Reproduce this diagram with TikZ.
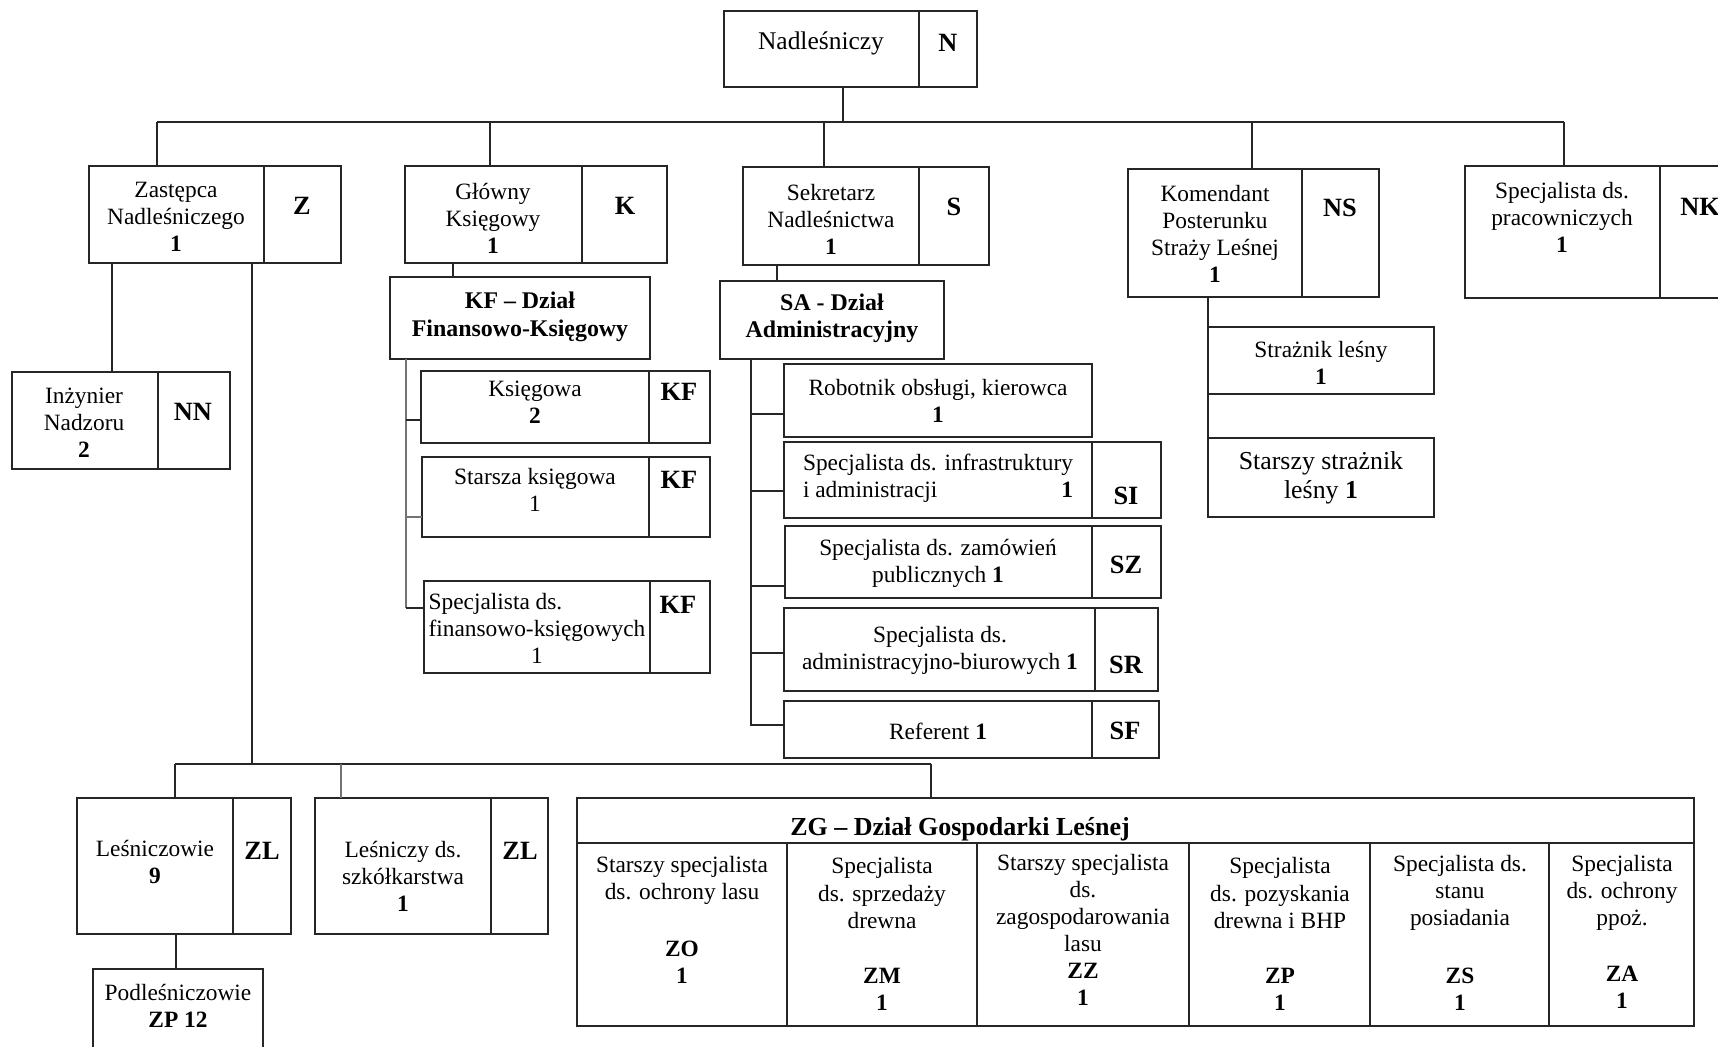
\documentclass[tikz,border=0pt]{standalone}
\usepackage{fontspec}
\setmainfont{Liberation Serif}
\usetikzlibrary{fit}
\newcommand\ft{\fontsize{13.3}{15.4}\selectfont}
\newcommand\obox[5]{\node[bx,fit={(#2,#3) (#4,#5)}] (#1) {};}
\tikzset{
  bx/.style={draw=black!85,line width=0.8pt,inner sep=0pt,outer sep=0pt},
  tx/.style={inner sep=0pt,align=center,font=\ft},
  cd/.style={inner sep=0pt,font=\fontsize{15}{17}\selectfont\bfseries},
  hd/.style={inner sep=0pt,align=center,font=\fontsize{13.6}{15.6}\selectfont\bfseries},
  ln/.style={draw=black!85,line width=0.75pt},
  lng/.style={draw=black!55,line width=0.75pt}
}
\begin{document}
\begin{tikzpicture}[x=0.02cm,y=-0.02cm]
\useasboundingbox (0,0) rectangle (1718,1046);
\clip (0,0) rectangle (1718,1046);
\fill[white] (0,0) rectangle (1718,1046);

% ---------- boxes ----------
\obox{N}{724}{11}{919}{87}      \obox{Nc}{919}{11}{977}{87}
\obox{Z}{89}{166}{264}{263}     \obox{Zc}{264}{166}{341}{263}
\obox{K}{405}{166}{582}{263}    \obox{Kc}{582}{166}{667}{263}
\obox{S}{743}{167}{919}{265}    \obox{Sc}{919}{167}{989}{265}
\obox{NS}{1128}{169}{1302}{297} \obox{NSc}{1302}{169}{1379}{297}
\obox{NK}{1465}{166}{1660}{298} \obox{NKc}{1660}{166}{1740}{298}
\obox{NN}{12}{372}{158}{469}    \obox{NNc}{158}{372}{230}{469}
\obox{KF}{390}{277}{650}{359}
\obox{KS}{421}{371}{649}{443}   \obox{KSc}{649}{371}{710}{443}
\obox{KSS}{422}{457}{649}{537}  \obox{KSSc}{649}{457}{710}{537}
\obox{KSF}{424}{581}{650}{673}  \obox{KSFc}{650}{581}{710}{673}
\obox{SA}{720}{281}{944}{359}
\obox{RO}{784}{364}{1092}{437}
\obox{SI}{784}{442}{1092}{518}  \obox{SIc}{1092}{442}{1161}{518}
\obox{SZ}{785}{526}{1092}{598}  \obox{SZc}{1092}{526}{1161}{598}
\obox{SR}{784}{608}{1095}{691}  \obox{SRc}{1095}{608}{1158}{691}
\obox{SF}{784}{701}{1092}{758}  \obox{SFc}{1092}{701}{1159}{758}
\obox{STa}{1208}{327}{1434}{394}
\obox{STb}{1208}{438}{1434}{517}
\obox{LE}{77}{798}{233}{934}    \obox{LEc}{233}{798}{291}{934}
\obox{LS}{315}{798}{491}{934}   \obox{LSc}{491}{798}{548}{934}
\obox{PO}{93}{969}{263}{1080}
\obox{ZGh}{577}{798}{1694}{843}
\obox{ZG1}{577}{843}{787}{1026}
\obox{ZG2}{787}{843}{977}{1026}
\obox{ZG3}{977}{843}{1189}{1026}
\obox{ZG4}{1189}{843}{1370}{1026}
\obox{ZG5}{1370}{843}{1549}{1026}
\obox{ZG6}{1549}{843}{1694}{1026}

% ---------- texts ----------
\node[tx,font=\fontsize{14.5}{16}\selectfont] (N-t) at (821,43) {Nadleśniczy};
\node[cd] (N-c) at (948,43) {N};
\node[tx] (Z-t) at (176,217) {Zastępca\\Nadleśniczego\\\textbf{1}};
\node[cd] (Z-c) at (302,206) {Z};
\node[tx] (K-t) at (493,218) {Główny\\Księgowy\\\textbf{1}};
\node[cd] (K-c) at (625,206) {K};
\node[tx] (S-t) at (831,219) {Sekretarz\\Nadleśnictwa\\\textbf{1}};
\node[cd] (S-c) at (954,207) {S};
\node[tx] (NS-t) at (1215,234) {Komendant\\Posterunku\\Straży Leśnej\\\textbf{1}};
\node[cd] (NS-c) at (1340,208) {NS};
\node[tx] (NK-t) at (1562,217) {Specjalista ds.\\pracowniczych\\\textbf{1}};
\node[cd] (NK-c) at (1700,207) {NK};
\node[tx] (NN-t) at (84,423) {Inżynier\\Nadzoru\\\textbf{2}};
\node[cd] (NN-c) at (193,412) {NN};

\node[hd] (KF-t) at (520,317) {KF – Dział\\Finansowo-Księgowy};
\node[tx] (KS-t) at (535,402) {Księgowa\\\textbf{2}};
\node[cd] (KS-c) at (679,392) {KF};
\node[tx] (KSS-t) at (535,490) {Starsza księgowa\\1};
\node[cd] (KSS-c) at (679,480) {KF};
\node[tx] (KSF-t) at (537,631) {\begin{tabular}{@{}l@{}}Specjalista ds.\\finansowo-księgowych\\\multicolumn{1}{@{}c@{}}{1}\end{tabular}};
\node[cd] (KSF-c) at (678,605) {KF};

\node[hd] (SA-t) at (832,318) {SA - Dział\\Administracyjny};
\node[tx] (RO-t) at (938,401) {Robotnik obsługi, kierowca\\\textbf{1}};
\node[tx] (SI-t) at (938,479) {\begin{tabular}{@{}c@{}}Specjalista ds. infrastruktury\\i administracji\hfill\textbf{1}\end{tabular}};
\node[cd] (SI-c) at (1126,496) {SI};
\node[tx] (SZ-t) at (938,563) {Specjalista ds. zamówień\\publicznych \textbf{1}};
\node[cd] (SZ-c) at (1126,565) {SZ};
\node[tx] (SR-t) at (940,650) {Specjalista ds.\\administracyjno-biurowych \textbf{1}};
\node[cd] (SR-c) at (1126,665) {SR};
\node[tx] (SF-t) at (938,731) {Referent \textbf{1}};
\node[cd] (SF-c) at (1125,731) {SF};

\node[tx] (STa-t) at (1321,363) {Strażnik leśny\\\textbf{1}};
\node[tx,font=\fontsize{14.7}{16.5}\selectfont] (STb-t) at (1321,478) {Starszy strażnik\\leśny \textbf{1}};

\node[tx] (LE-t) at (155,862) {Leśniczowie\\\textbf{9}};
\node[cd] (LE-c) at (262,851) {ZL};
\node[tx] (LS-t) at (403,876) {Leśniczy ds.\\szkółkarstwa\\\textbf{1}};
\node[cd] (LS-c) at (520,851) {ZL};
\node[tx] (PO-t) at (178,1006) {Podleśniczowie\\\textbf{ZP 12}};

\node[inner sep=0pt,font=\fontsize{14.8}{16}\selectfont\bfseries] (ZGh-t) at (960,829) {ZG – Dział Gospodarki Leśnej};
\node[tx] (ZG1-t) at (682,880) {Starszy specjalista\\ds. ochrony lasu};
\node[tx] (ZG1-c) at (682,962) {\textbf{ZO}\\\textbf{1}};
\node[tx] (ZG2-t) at (882,893) {Specjalista\\ds. sprzedaży\\drewna};
\node[tx] (ZG2-c) at (882,989) {\textbf{ZM}\\\textbf{1}};
\node[tx] (ZG3-t) at (1083,903) {Starszy specjalista\\ds.\\zagospodarowania\\lasu};
\node[tx] (ZG3-c) at (1083,984) {\textbf{ZZ}\\\textbf{1}};
\node[tx] (ZG4-t) at (1280,893) {Specjalista\\ds. pozyskania\\drewna i BHP};
\node[tx] (ZG4-c) at (1280,989) {\textbf{ZP}\\\textbf{1}};
\node[tx] (ZG5-t) at (1460,893) {Specjalista ds.\\stanu\\posiadania};
\node[tx] (ZG5-c) at (1460,989) {\textbf{ZS}\\\textbf{1}};
\node[tx] (ZG6-t) at (1622,893) {Specjalista\\ds. ochrony\\ppoż.};
\node[tx] (ZG6-c) at (1622,987) {\textbf{ZA}\\\textbf{1}};

% ---------- connectors ----------
\coordinate (b1l) at (157,122);
\coordinate (b1r) at (1564,122);
\coordinate (dN) at (843,122);
\coordinate (dK) at (490,122);
\coordinate (dS) at (824,122);
\coordinate (dNS) at (1252,122);
\draw[ln] (b1l) -- (b1r);
\draw[ln] (dN) -- (dN |- N.south);
\draw[ln] (b1l) -- (b1l |- Z.north);
\draw[ln] (dK) -- (dK |- K.north);
\draw[ln] (dS) -- (dS |- S.north);
\draw[ln] (dNS) -- (dNS |- NS.north);
\draw[ln] (b1r) -- (b1r |- NK.north);

\coordinate (zn) at (112,263);
\draw[ln] (zn) -- (zn |- NN.north);
\coordinate (zd) at (252,764);
\draw[ln] (zd) -- (zd |- Z.south);
\coordinate (b2l) at (175,764);
\coordinate (b2m) at (341,764);
\coordinate (b2r) at (931,764);
\draw[ln] (b2l) -- (b2r);
\draw[ln] (b2l) -- (b2l |- LE.north);
\draw[lng] (b2m) -- (b2m |- LS.north);
\draw[ln] (b2r) -- (b2r |- ZGh.north);
\coordinate (lp) at (176,934);
\draw[ln] (lp) -- (lp |- PO.north);

\coordinate (kk) at (453,263);
\draw[ln] (kk) -- (kk |- KF.north);
\coordinate (kft) at (406,359);
\coordinate (kt1) at (406,420);
\coordinate (kt2) at (406,517);
\coordinate (kt3) at (406,608);
\draw[lng] (kft) -- (kt3);
\draw[ln] (kt1) -- (kt1 -| KS.west);
\draw[lng] (kt2) -- (kt2 -| KSS.west);
\draw[ln] (kt3) -- (kt3 -| KSF.west);

\coordinate (sa) at (777,265);
\draw[ln] (sa) -- (sa |- SA.north);
\coordinate (sat) at (751,359);
\coordinate (st1) at (751,414);
\coordinate (st2) at (751,491);
\coordinate (st3) at (751,586);
\coordinate (st4) at (751,653);
\coordinate (st5) at (751,725);
\draw[ln] (sat) -- (st5) -- (st5 -| SF.west);
\draw[ln] (st1) -- (st1 -| RO.west);
\draw[ln] (st2) -- (st2 -| SI.west);
\draw[ln] (st3) -- (st3 -| SZ.west);
\draw[ln] (st4) -- (st4 -| SR.west);

\coordinate (ns) at (1208,297);
\draw[ln] (ns) -- (STb.north west);
\end{tikzpicture}
\end{document}
